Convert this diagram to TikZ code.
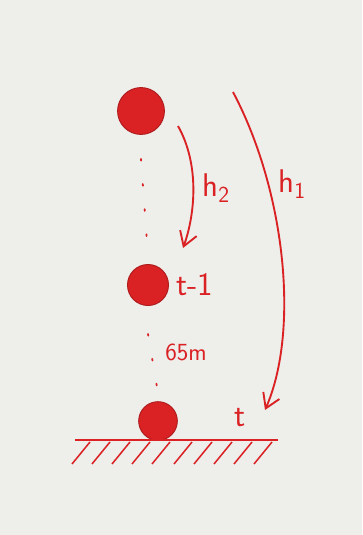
\documentclass[tikz,border=0pt]{standalone}
\usepackage{tikz}
\usetikzlibrary{positioning}
\usetikzlibrary{arrows.meta,calc}
\definecolor{pen}{RGB}{218,34,36}
\definecolor{paper}{RGB}{238,238,235}

\begin{document}
\begin{tikzpicture}[x=0.03cm,y=-0.03cm,
    ball/.style={circle,fill=pen,draw=pen!80!black,line width=0.8pt,inner sep=0pt},
    hand/.style={text=pen,font=\sffamily\fontsize{28}{28}\selectfont},
    fall/.style={draw=pen,line width=1.6pt,-{Straight Barb[length=12pt,width=15pt,line width=1.6pt]}},
    dots/.style={draw=pen,line width=1.5pt,line cap=round,dash pattern=on 1.5pt off 20pt}]
  % paper
  \fill[paper] (0,0) rectangle (362,535);
  \useasboundingbox (0,0) rectangle (362,535);
  % the three positions of the ball
  \node[ball,minimum size=40] (top) at (141,111) {};
  \node[ball,minimum size=35] (mid) at (148,285) {};
  \node[ball,minimum size=33] (bot) at (158,421) {};
  \draw[dots] (top.south) ++(0,24) -- ($(mid.north)+(0,-8)$);
  \draw[dots] (mid.south) ++(0,28) -- ($(bot.north)+(0,-8)$);
  % labels
  \node[hand,right=3 of mid] (tm1) {t-1};
  \node[hand] (tnow) at (240,418) {t};
  \node[hand,font=\sffamily\fontsize{21}{21}\selectfont] (dist) at (186,352) {65m};
  % ground with hatching
  \draw[pen,line width=1.3pt] (75,440) coordinate (g0) -- (278,440) coordinate (g1);
  \foreach \x in {72,92,112,132,152,174,194,214,234,254} {
    \draw[pen,line width=1.3pt] (\x,464) -- ++(18,-22);
  }
  % fall heights
  \coordinate (h2a) at (178,126);
  \coordinate (h2b) at (183,248);
  \draw[fall] (h2a) .. controls (200,165) and (195,215) .. (h2b);
  \node[hand] (h2) at (216,188) {h\textsubscript{2}};
  \coordinate (h1a) at (233,92);
  \coordinate (h1b) at (265,410);
  \draw[fall] (h1a) .. controls (285,190) and (300,330) .. (h1b);
  \node[hand] (h1) at (292,184) {h\textsubscript{1}};
\end{tikzpicture}
\end{document}
